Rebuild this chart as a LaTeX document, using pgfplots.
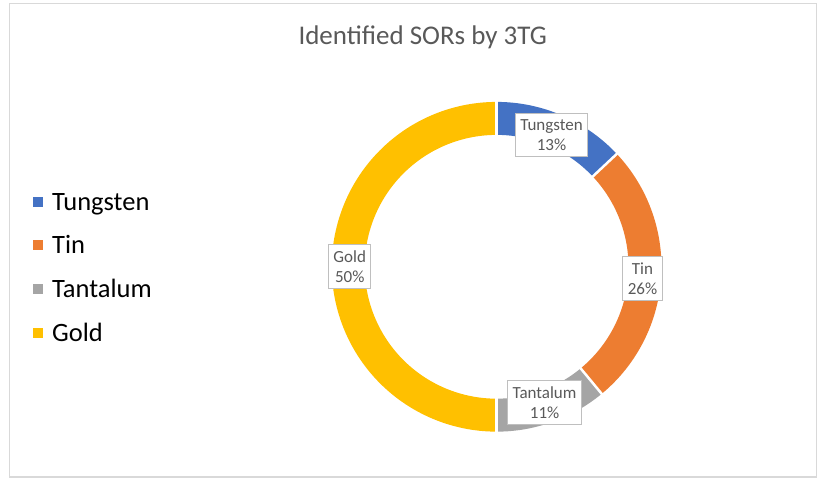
\documentclass[border=0pt]{standalone}
\usepackage{pgfplots}
\pgfplotsset{compat=1.18}
\usepackage{fontspec}
\setmainfont{Carlito}
\definecolor{cW}{HTML}{4472C4}
\definecolor{cT}{HTML}{ED7D31}
\definecolor{cTa}{HTML}{A5A5A5}
\definecolor{cG}{HTML}{FFC000}
\definecolor{txt}{HTML}{595959}
\definecolor{bord}{HTML}{D9D9D9}
\definecolor{lbord}{HTML}{BFBFBF}
\begin{document}
\begin{tikzpicture}
\begin{axis}[
  scale only axis, width=817pt, height=481pt,
  xmin=0, xmax=817, ymin=0, ymax=481,
  axis lines=none, clip=false,
  legend cell align=left,
  legend style={draw=none, fill=none, at={(axis cs:33,290)}, anchor=north west,
    font=\fontsize{26.5}{30}\selectfont, row sep=20pt, inner sep=0pt,
    nodes={inner sep=2pt},
    /tikz/every odd column/.append style={column sep=7pt}},
  legend image code/.code={\fill[#1, draw=none, line width=0pt] (0pt,-5pt) rectangle (10pt,5pt);},
]
\fill[white] (axis cs:0,0) rectangle (axis cs:817,481);
\draw[bord, line width=1.5pt] (axis cs:9.5,3.5) rectangle (axis cs:816.9,477.5);
% ring: Tungsten 13, Tin 26, Tantalum 11, Gold 50 (clockwise from top)
\addplot[cW, line width=33pt, domain=43.2:90, samples=60] ({497+148.5*cos(x)},{214+148.5*sin(x)});
\addlegendentry{Tungsten}
\addplot[cT, line width=33pt, domain=-50.4:43.2, samples=80] ({497+148.5*cos(x)},{214+148.5*sin(x)});
\addlegendentry{Tin}
\addplot[cTa, line width=33pt, domain=-90:-50.4, samples=50] ({497+148.5*cos(x)},{214+148.5*sin(x)});
\addlegendentry{Tantalum}
\addplot[cG, line width=33pt, domain=-270:-90, samples=120] ({497+148.5*cos(x)},{214+148.5*sin(x)});
\addlegendentry{Gold}
\pgfplotsinvokeforeach{90,43.2,-50.4,-90}{
  \draw[white, line width=2.5pt] (axis cs:497,214) ++(#1:128) -- ++(#1:40);
}
\node[txt, font=\fontsize{27}{31}\selectfont] at (axis cs:423,444) {Identified SORs by 3TG};
\tikzset{lab/.style={draw=lbord, fill=white, line width=1pt, text=txt, align=center,
  font=\fontsize{17}{20}\selectfont, inner xsep=5pt, inner ysep=6pt}}
\node[lab] at (axis cs:552,346) {Tungsten\\13\%};
\node[lab] at (axis cs:643,202) {Tin\\26\%};
\node[lab] at (axis cs:545,78) {Tantalum\\11\%};
\node[lab] at (axis cs:350,214) {Gold\\50\%};
\end{axis}
\end{tikzpicture}
\end{document}
